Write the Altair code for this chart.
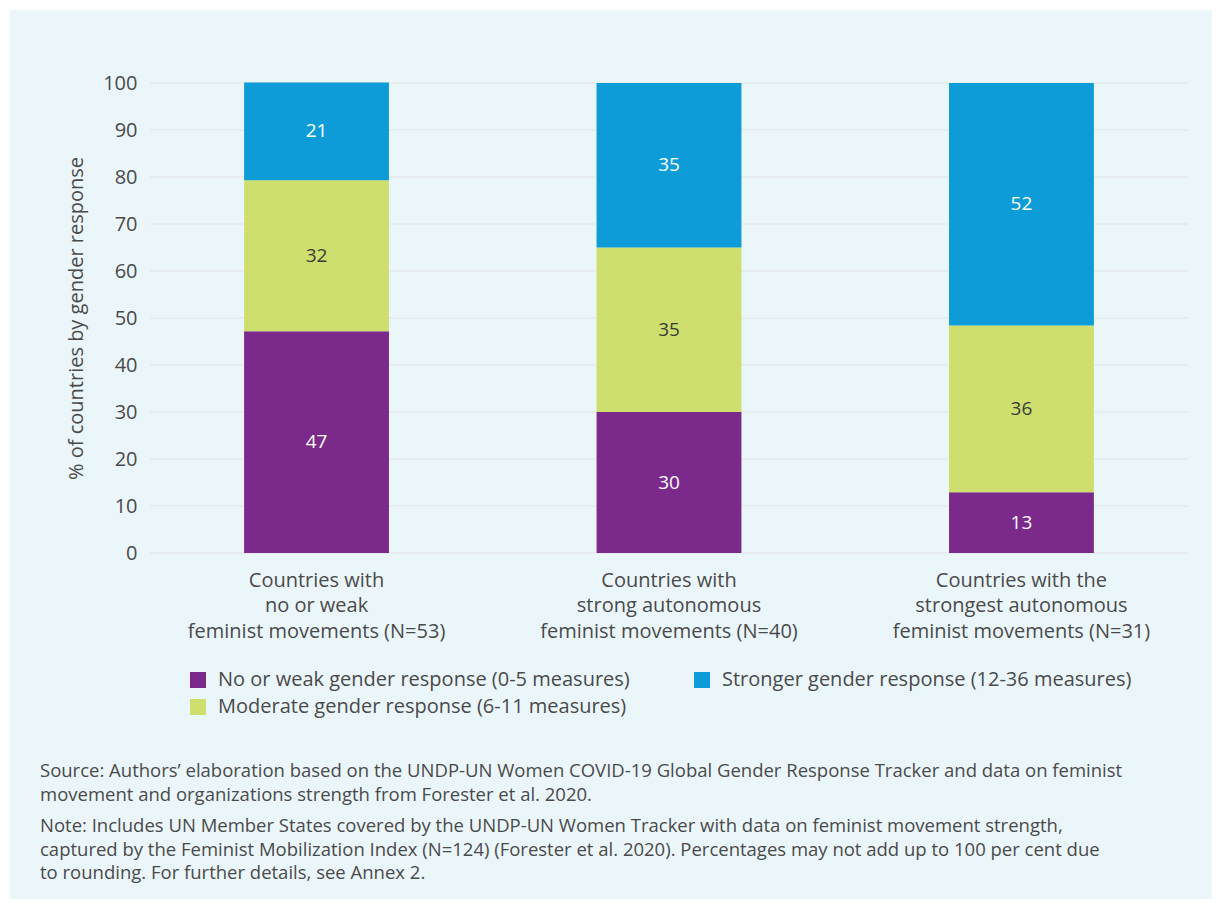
import altair as alt
import pandas as pd

groups = [
    "Countries with\nno or weak\nfeminist movements (N=53)",
    "Countries with\nstrong autonomous\nfeminist movements (N=40)",
    "Countries with the\nstrongest autonomous\nfeminist movements (N=31)",
]
categories = [
    "No or weak gender response (0-5 measures)",
    "Moderate gender response (6-11 measures)",
    "Stronger gender response (12-36 measures)",
]
weak_vals = [47.2, 30.0, 12.9]
moderate_vals = [32.1, 35.0, 35.5]
stronger_vals = [20.8, 35.0, 51.6]
colors = ["#7B2A8C", "#CFDF6E", "#0E9CD8"]
y_ticks = [0, 10, 20, 30, 40, 50, 60, 70, 80, 90, 100]

source_lines = [
    "Source: Authors\u2019 elaboration based on the UNDP-UN Women COVID-19 Global Gender Response Tracker and data on feminist",
    "movement and organizations strength from Forester et al. 2020.",
]
note_lines = [
    "Note: Includes UN Member States covered by the UNDP-UN Women Tracker with data on feminist movement strength,",
    "captured by the Feminist Mobilization Index (N=124) (Forester et al. 2020). Percentages may not add up to 100 per cent due",
    "to rounding. For further details, see Annex 2.",
]

rows = []
for gi, g in enumerate(groups):
    for ci, (cat, vals) in enumerate(zip(categories, [weak_vals, moderate_vals, stronger_vals])):
        rows.append({"group": g, "cat": cat, "order": ci, "value": vals[gi]})
df = pd.DataFrame(rows)

BG = "#EBF6FB"
TXT = "#4A4A4A"
FONT = "Open Sans"
FS = 20
W, H = 1038, 470

yaxis = alt.Axis(
    values=y_ticks, grid=False, domain=False, ticks=False, labelPadding=13,
    labelFontSize=FS, labelColor=TXT, labelFont=FONT,
    titleFontSize=20, titleColor=TXT, titleFont=FONT, titleFontWeight="normal",
    titlePadding=16, zindex=2,
)
xaxis = alt.Axis(
    labelExpr="split(datum.label, '\\n')", labelAngle=0, domain=False, ticks=False,
    labelPadding=17, labelLineHeight=25.5, labelFontSize=FS, labelColor=TXT, labelFont=FONT,
    labelBaseline="top", zindex=2, labelLimit=400,
)
ytitle = "% of countries by gender response"
yscale = alt.Scale(domain=[0, 100])
xscale = alt.Scale(paddingInner=0.589, paddingOuter=0.267)

backdrop = alt.Chart(pd.DataFrame({"a": [0]})).mark_rect(color=BG).encode(
    x=alt.value(-140), x2=alt.value(1062), y=alt.value(-73), y2=alt.value(816)
)

grid = alt.Chart(pd.DataFrame({"t": y_ticks})).mark_rule(color="#E3E3E3", strokeWidth=1).encode(
    y=alt.Y("t:Q", axis=yaxis, scale=yscale, title=ytitle),
    x=alt.value(0), x2=alt.value(W),
)

base = alt.Chart(df).transform_stack(
    stack="value", groupby=["group"], sort=[alt.SortField("order")], as_=["v0", "v1"]
).transform_calculate(mid="(datum.v0 + datum.v1) / 2")

bars = base.mark_bar().encode(
    x=alt.X("group:N", sort=groups, title=None, scale=xscale, axis=xaxis),
    y=alt.Y("v0:Q", scale=yscale, title=ytitle, axis=yaxis),
    y2="v1:Q",
    color=alt.Color(
        "cat:N",
        scale=alt.Scale(domain=categories, range=colors),
        legend=alt.Legend(
            title=None, orient="none", legendX=38, legendY=587, columns=2,
            symbolType="square", symbolSize=256, symbolStrokeWidth=0,
            labelFontSize=FS, labelColor=TXT, labelFont=FONT, labelOffset=10,
            rowPadding=7, columnPadding=62, labelLimit=600,
        ),
    ),
)

labels = base.mark_text(fontSize=19, font=FONT).encode(
    x=alt.X("group:N", sort=groups, title=None, scale=xscale, axis=xaxis),
    y=alt.Y("mid:Q", scale=yscale, title=ytitle, axis=yaxis),
    text=alt.Text("value:Q", format=".0f"),
    color=alt.condition(alt.datum.order == 1, alt.value("#3A3A3A"), alt.value("white")),
)

chart = alt.layer(backdrop, grid, bars, labels).properties(
    width=W, height=H,
    autosize=alt.AutoSizeParams(type="none"),
    padding={"left": 150, "top": 83, "right": 34, "bottom": 356},
    background="white",
    title=alt.TitleParams(
        text=source_lines, subtitle=note_lines, orient="bottom", anchor="start", frame="group",
        dx=-110, offset=-137, font=FONT, fontSize=18.5, fontWeight="normal",
        color=TXT, lineHeight=23.5, subtitleFont=FONT, subtitleFontSize=18.5,
        subtitleColor=TXT, subtitleLineHeight=23.5, subtitlePadding=13,
    ),
).configure_view(stroke=None)

chart.save("out.html", embed_options={"renderer": "svg", "actions": False})
